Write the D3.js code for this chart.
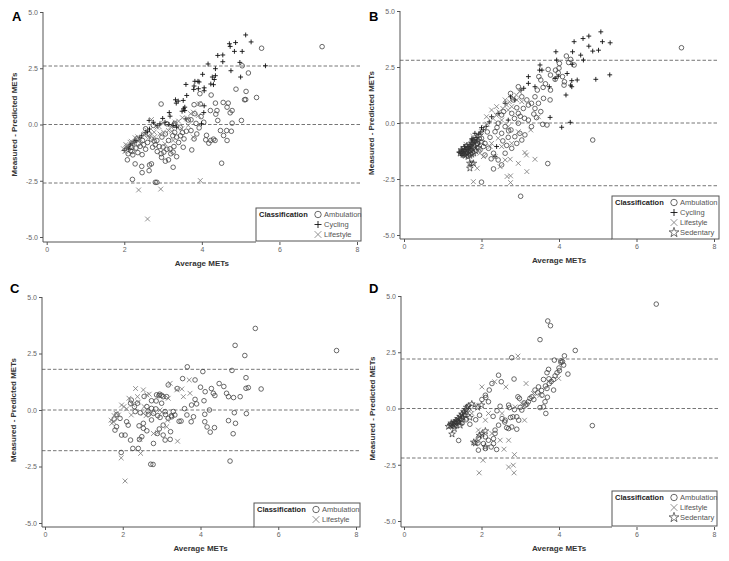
<!DOCTYPE html>
<html><head><meta charset="utf-8">
<script src="https://cdn.jsdelivr.net/npm/d3@7"></script>
<style>body{margin:0;background:#fff}svg{display:block}text{font-family:"Liberation Sans",Arial,sans-serif}</style>
</head><body>
<script>
const xTicks=[0,2,4,6,8];
const yTicks=[-5,-2.5,0,2.5,5];
const xTitle="Average METs";
const yTitle="Measured - Predicted METs";
const legendTitle="Classification";
const limitsA=[-2.6,0,2.6], limitsB=[-2.8,0,2.8], limitsC=[-1.8,0,1.8], limitsD=[-2.2,0,2.2];

const A_ambulation=[[7.10,3.46],[5.54,3.39],[5.04,2.61],[5.20,2.29],[4.88,1.57],[5.14,1.47],[5.41,1.20],[5.13,1.11],[5.10,1.10],[4.24,1.31],[3.95,1.37],[3.96,0.91],[3.80,0.88],[2.95,0.91],[4.35,0.95],[4.55,0.98],[4.68,0.95],[4.65,0.77],[4.78,0.62],[4.73,0.52],[4.39,0.62],[4.36,0.46],[4.22,0.62],[4.41,0.18],[4.78,0.06],[5.02,0.18],[4.76,-0.30],[4.64,-0.27],[4.48,-0.27],[4.56,-0.49],[4.65,-0.71],[4.51,-1.72],[4.23,-0.71],[4.34,-0.71],[4.12,-0.48],[4.10,-0.68],[4.18,-0.83],[3.93,-0.15],[3.87,-0.42],[3.72,-0.27],[3.80,-0.64],[3.74,-1.13],[3.54,-0.64],[3.50,-0.36],[3.44,-0.12],[3.35,-0.56],[3.28,-0.98],[3.26,-1.23],[3.35,-1.43],[3.14,-1.57],[3.06,-1.63],[2.96,-1.46],[3.02,-1.23],[2.90,-0.98],[2.84,-0.71],[2.97,-0.56],[3.06,-0.42],[3.14,-0.71],[3.18,-1.08],[2.73,-1.01],[2.77,-0.74],[2.64,-0.42],[2.55,-0.19],[2.47,-0.71],[2.46,-1.34],[2.41,-0.97],[2.70,-1.75],[2.65,-1.80],[2.45,-1.86],[2.28,-1.75],[2.22,-1.35],[2.16,-1.16],[2.08,-1.57],[2.46,-2.14],[2.64,-2.05],[2.21,-2.44],[2.80,-2.57],[2.84,-2.57],[2.19,-1.01],[2.36,-0.86],[2.32,-0.64],[3.26,-1.90],[3.52,-1.01],[2.75,-0.04],[3.10,0.03],[3.72,0.21],[3.82,0.48],[2.10,-1.30],[2.20,-1.20],[2.30,-1.05],[2.35,-1.25],[2.50,-0.90],[2.55,-1.10],[2.60,-0.80],[2.70,-0.65],[2.80,-0.90],[2.85,-1.20],[2.95,-1.30],[3.00,-1.00],[3.10,-1.10],[3.20,-1.30],[3.25,-0.50],[3.30,-0.35],[3.40,-0.80],[3.45,-0.50],[3.60,-0.30],[3.65,0.20],[3.30,0.05],[3.28,-0.02],[3.85,0.05],[3.98,0.35],[4.05,0.10],[4.30,-0.65]];
const A_cycling=[[5.13,3.98],[5.27,3.67],[4.71,3.59],[4.87,3.64],[4.73,3.47],[4.54,3.09],[4.41,3.07],[4.54,2.79],[5.04,3.25],[4.84,3.25],[4.98,2.76],[5.64,2.61],[4.75,2.39],[5.00,2.11],[4.16,2.69],[4.35,2.48],[4.02,2.23],[4.27,2.11],[4.35,2.17],[4.32,2.00],[3.82,1.92],[3.90,1.92],[3.93,1.89],[3.80,1.71],[3.91,1.59],[3.79,1.56],[4.06,1.63],[4.06,1.50],[4.23,1.80],[4.30,1.77],[3.59,1.78],[3.61,1.29],[3.39,1.04],[3.52,1.07],[3.32,1.10],[3.34,0.95],[3.56,0.77],[3.56,0.62],[3.53,0.70],[3.16,0.53],[3.18,0.37],[4.06,0.83],[2.99,0.27],[2.92,0.03],[2.64,0.18],[2.75,0.10],[3.26,-0.04],[3.35,-0.12],[3.99,0.03],[4.05,0.53],[3.59,0.25],[3.49,0.59],[2.00,-1.15],[2.05,-1.05],[2.10,-1.00],[2.15,-0.90],[2.20,-0.85],[2.25,-0.78],[2.12,-1.10],[2.30,-0.70],[2.40,-0.60],[2.45,-0.50],[2.55,-0.35],[2.60,-0.30],[2.65,-0.20],[2.85,-0.05],[3.05,0.10],[3.15,0.00]];
const A_lifestyle=[[2.60,-4.20],[2.37,-2.91],[2.94,-2.87],[3.96,-2.49],[1.98,-1.08],[2.06,-1.01],[2.15,-0.79],[2.28,-0.59],[2.52,-0.42],[2.70,0.22],[2.84,-0.12],[2.92,-0.42],[3.01,-0.34],[3.22,-0.30],[3.48,-0.19],[3.65,-0.04],[3.71,0.48],[3.78,0.55],[3.91,0.40],[3.93,0.92],[3.61,0.25],[3.31,0.10],[3.14,-0.27],[2.77,-0.34],[2.64,-0.56],[2.42,-0.68],[2.23,-0.83],[2.11,-1.16],[2.04,-0.89],[3.05,-0.86],[3.26,-0.71],[3.78,-0.56],[2.02,-1.20],[2.08,-0.95],[2.18,-0.75],[2.22,-1.00],[2.35,-0.55],[2.50,-0.45],[2.58,-0.25],[2.62,-0.50],[2.78,-0.55],[2.90,-0.10],[3.00,0.05],[3.20,-0.10],[3.40,0.15],[3.50,0.30]];

const B_ambulation=[[7.16,3.36],[4.87,-0.76],[4.19,2.99],[4.30,2.84],[4.39,2.59],[4.01,2.66],[3.72,2.39],[3.91,2.36],[3.98,2.24],[4.09,2.07],[3.78,2.14],[3.90,1.95],[4.14,1.84],[4.13,1.69],[3.78,1.47],[3.77,1.03],[3.48,2.07],[3.53,1.92],[3.59,1.59],[3.44,1.47],[3.38,1.17],[3.47,0.88],[3.38,0.65],[3.53,0.51],[3.42,0.24],[3.58,-0.06],[3.69,-0.09],[3.71,-1.81],[3.01,-3.27],[2.00,-2.64],[1.75,-1.80],[2.31,-2.05],[2.75,1.32],[2.82,1.03],[2.91,0.68],[2.78,0.43],[2.95,0.43],[3.08,0.65],[3.21,0.80],[3.11,0.21],[2.95,-0.01],[2.57,0.51],[2.52,0.36],[2.43,-0.01],[2.61,-0.16],[2.76,-0.31],[2.86,-0.61],[2.99,-0.46],[2.69,-0.64],[2.52,-0.46],[2.35,-0.39],[2.22,-0.64],[2.09,-0.91],[2.18,-1.13],[2.31,-1.35],[2.43,-1.65],[2.52,-1.87],[2.09,-1.43],[1.96,-1.20],[1.90,-0.91],[2.00,-0.68],[2.61,-1.35],[2.78,-1.13],[2.91,-0.91],[3.04,-0.76],[3.12,-0.53],[3.29,-0.16],[3.21,0.13],[3.04,1.17],[3.17,1.03],[3.29,0.88],[2.95,1.62],[2.40,-0.20],[2.55,-0.80],[2.65,-1.00],[2.70,-0.35],[2.85,0.20],[3.00,0.30],[3.35,0.40],[3.60,1.10],[3.65,1.75],[4.00,2.45],[4.25,2.70],[2.25,-1.60],[2.05,-1.05],[2.15,-0.40]];
const B_cycling=[[5.08,4.07],[4.77,3.88],[4.62,3.77],[4.39,3.63],[5.12,3.63],[5.32,3.58],[4.77,3.43],[4.87,3.21],[5.02,3.25],[3.92,3.18],[4.35,3.18],[4.56,3.03],[4.63,2.81],[3.94,2.81],[4.34,2.62],[3.51,2.59],[3.50,2.36],[3.56,2.36],[4.21,2.21],[5.31,2.15],[3.90,1.99],[4.47,1.92],[4.33,1.89],[4.95,1.95],[4.30,1.69],[4.33,1.62],[4.18,1.25],[3.21,1.77],[3.09,1.55],[3.75,1.62],[3.77,0.25],[4.29,0.03],[4.07,-0.19],[3.02,1.47],[2.86,1.03],[2.61,0.88],[2.43,0.43],[2.26,0.28],[2.00,-0.21],[1.83,-0.46],[1.75,-0.76],[1.57,-1.05],[1.49,-1.20],[2.39,-1.05],[2.35,-1.50],[2.75,1.17],[3.38,1.62],[3.21,2.07],[2.69,0.13],[3.98,2.09],[1.42,-1.30],[1.47,-1.35],[1.53,-1.28],[1.57,-1.18],[1.63,-1.10],[1.68,-1.05],[1.73,-0.95],[1.78,-0.85],[1.83,-0.75],[1.88,-0.65],[1.93,-0.50],[1.98,-0.40],[1.60,-1.40],[1.66,-1.25],[1.72,-1.15],[1.50,-1.45],[1.75,-0.70],[2.05,-0.30],[2.12,-0.15],[2.20,0.05]];
const B_lifestyle=[[1.79,-2.62],[2.75,-2.66],[2.75,-2.36],[2.66,-2.39],[3.17,-2.17],[3.38,-1.62],[3.12,-1.32],[3.16,-1.43],[3.27,-0.31],[2.95,-1.80],[2.74,-1.62],[2.61,-1.65],[2.48,-1.95],[1.89,-2.02],[2.35,-1.50],[2.22,-1.05],[2.05,-1.50],[1.96,-1.35],[2.52,-1.05],[2.78,-0.91],[2.43,-0.68],[2.26,-0.91],[2.78,0.73],[2.91,1.03],[2.69,0.58],[2.61,1.03],[2.39,0.73],[2.13,0.28],[2.26,0.58],[3.04,0.95],[2.52,0.13],[2.69,-0.16],[2.00,-0.39],[1.83,-0.76],[2.95,-0.39],[3.47,0.28],[1.55,-1.35],[1.62,-1.30],[1.68,-1.15],[1.74,-1.05],[1.80,-1.00],[1.86,-0.85],[1.92,-0.70],[1.60,-0.95],[1.78,-0.60],[2.08,-0.20],[2.15,-0.05],[2.30,0.20],[2.38,0.35],[2.45,0.50],[2.55,0.65],[2.65,0.80],[2.72,0.95],[2.82,1.10],[2.90,1.25],[2.98,1.40]];
const B_sedentary=[[1.45,-1.35],[1.50,-1.30],[1.55,-1.25],[1.60,-1.20],[1.65,-1.10],[1.70,-1.00],[1.75,-0.90],[1.80,-0.80],[1.85,-0.70],[1.52,-1.40],[1.58,-1.45],[1.62,-1.38],[1.68,-1.30],[1.72,-1.22],[1.78,-1.15],[1.82,-1.05],[1.88,-0.95],[1.90,-0.80],[1.48,-1.20],[1.55,-1.10],[1.62,-1.02],[1.70,-1.45],[1.75,-1.40],[1.80,-1.35],[1.85,-1.25],[1.65,-1.50],[1.70,-1.80],[1.79,-1.80],[1.70,-2.02],[1.95,-0.55],[1.92,-1.10],[2.00,-0.85]];

const C_ambulation=[[7.50,2.63],[5.41,3.61],[4.89,2.86],[5.14,2.41],[5.17,1.43],[5.17,0.96],[5.23,0.99],[5.56,0.93],[5.18,-0.16],[4.81,1.75],[3.66,1.91],[4.06,1.70],[3.54,1.39],[3.86,1.33],[4.00,1.01],[4.48,1.17],[4.60,1.04],[4.28,0.95],[4.33,0.74],[4.12,0.81],[4.67,0.74],[4.72,0.59],[5.02,0.59],[4.85,0.55],[4.37,0.64],[4.09,0.41],[3.86,0.47],[3.77,0.22],[3.90,0.27],[3.59,0.06],[3.65,-0.22],[3.82,-0.30],[3.76,-0.52],[3.50,-0.49],[4.11,-0.19],[4.23,0.00],[4.11,-0.52],[4.17,-0.75],[4.25,-0.98],[4.36,-0.78],[4.72,-0.47],[4.87,-0.12],[4.90,-0.59],[4.84,-1.05],[4.76,-2.26],[3.26,-0.30],[3.30,-0.07],[3.34,-0.22],[3.17,-0.37],[3.23,-0.96],[3.22,-1.30],[3.09,-1.33],[2.94,-0.84],[3.04,-1.11],[2.89,-1.04],[2.79,-1.48],[3.04,-0.67],[2.96,-0.33],[3.09,-0.07],[3.00,0.30],[2.93,0.64],[2.87,0.67],[3.04,0.59],[3.13,0.59],[3.17,1.11],[2.86,0.40],[2.74,0.41],[2.74,0.07],[2.79,-0.15],[2.66,-0.19],[2.74,-0.44],[2.53,-0.59],[2.42,-0.70],[2.53,-0.81],[2.62,-0.92],[2.49,-1.18],[2.43,-1.30],[2.40,-1.70],[2.26,-1.70],[2.72,-2.40],[2.78,-2.41],[1.96,-1.88],[1.97,-1.11],[2.06,-1.11],[2.20,-1.33],[2.14,-0.67],[2.32,-0.07],[2.45,-0.12],[2.62,0.15],[2.38,0.30],[2.22,0.44],[1.93,-0.37],[1.80,-0.89],[1.84,-0.74],[2.10,-0.52],[2.95,0.70],[3.00,0.65],[2.90,-0.25],[3.10,-0.20],[3.25,-0.25],[2.85,0.05],[2.55,0.60],[2.65,-0.05],[2.30,0.15],[2.20,0.30],[1.85,-0.20],[1.78,-0.40],[3.45,-0.50],[3.40,0.95]];
const C_lifestyle=[[2.06,-3.14],[1.96,-2.12],[2.46,-1.92],[2.44,-1.30],[1.97,0.22],[2.16,0.52],[2.33,0.95],[2.53,0.89],[2.38,0.59],[2.62,0.67],[3.22,1.18],[3.17,0.52],[3.39,0.89],[3.52,0.93],[3.56,0.59],[3.71,1.33],[3.73,0.74],[3.41,-1.38],[2.79,-1.04],[2.96,0.00],[2.22,-0.22],[1.72,-0.59],[1.76,-0.52],[1.83,-0.15],[1.89,-0.22],[2.03,0.15],[2.53,-0.15],[3.13,-0.74],[1.70,-0.45],[1.78,-0.25],[2.10,0.05],[2.25,0.25],[2.40,0.35],[2.55,0.15],[2.60,-0.25],[2.75,-0.10],[2.90,-1.00],[3.00,-0.10],[3.15,-0.45],[2.68,0.70]];

const D_ambulation=[[6.51,4.64],[3.71,3.89],[3.78,3.68],[3.51,3.06],[4.42,2.58],[4.14,2.34],[4.05,2.12],[4.09,2.08],[4.12,1.93],[4.23,1.53],[3.88,2.15],[4.01,1.68],[3.95,1.59],[3.73,1.74],[3.69,1.59],[3.74,1.32],[3.86,1.29],[3.75,1.11],[3.60,1.29],[3.86,0.82],[3.69,0.89],[3.47,0.96],[3.38,0.82],[3.56,0.59],[3.64,0.30],[3.60,0.07],[3.51,0.04],[3.66,-0.22],[4.86,-0.76],[3.30,0.52],[3.21,0.30],[3.13,0.15],[3.17,0.19],[3.04,-0.07],[2.91,-0.37],[2.96,-0.52],[2.78,-0.82],[2.70,-0.89],[2.91,-0.92],[2.81,-0.37],[2.70,0.15],[2.72,0.04],[2.48,0.10],[2.53,-0.45],[2.61,-0.52],[2.44,-0.74],[2.35,-0.96],[2.35,-1.11],[2.31,-1.34],[2.31,-1.56],[2.39,-1.82],[2.25,-1.71],[2.18,-1.41],[2.10,-1.26],[2.05,-1.56],[2.10,-1.78],[1.92,-1.85],[1.91,-1.53],[1.92,-1.31],[1.41,-1.42],[2.84,1.31],[2.78,2.26],[2.44,1.48],[2.51,1.19],[2.20,0.82],[2.10,0.59],[2.01,0.40],[2.11,0.49],[2.18,0.30],[2.94,0.52],[2.98,0.45],[2.27,1.11],[1.30,-0.80],[1.50,-0.65],[1.60,-0.50],[1.70,-0.70],[1.85,-0.50],[1.95,-0.30],[2.30,-0.35],[2.40,-0.10],[2.60,-0.60],[2.65,-0.85],[2.75,-0.40],[2.85,-0.05],[3.00,0.05],[3.10,0.25],[3.25,0.45],[3.35,0.40],[3.45,0.70],[3.55,0.80],[3.65,1.00],[3.80,1.20],[3.90,1.45],[4.00,1.80],[4.05,2.05],[3.70,0.50]];
const D_lifestyle=[[1.94,-2.86],[2.84,-2.86],[2.82,-2.52],[2.70,-2.60],[2.85,-2.05],[2.04,-2.30],[2.94,2.33],[2.01,0.96],[2.63,0.96],[2.34,1.19],[3.15,1.11],[2.70,-1.41],[2.58,-1.81],[2.48,-1.41],[2.27,-1.11],[2.10,-0.52],[1.92,-0.96],[1.75,-0.22],[1.84,0.15],[2.18,-0.22],[2.53,-0.22],[3.04,0.22],[2.87,0.07],[3.11,-0.52],[3.34,0.67],[3.51,0.59],[3.99,1.34],[1.56,-0.15],[1.67,0.07],[1.18,-0.78],[1.26,-0.68],[1.32,-0.58],[1.36,-0.50],[1.42,-0.40],[1.47,-0.30],[1.53,-0.20],[1.57,-0.10],[1.35,-0.75],[1.45,-0.60],[1.55,-0.45],[1.65,-0.20],[1.72,-0.05]];
const D_sedentary=[[1.15,-0.80],[1.20,-0.75],[1.25,-0.70],[1.30,-0.62],[1.35,-0.55],[1.40,-0.45],[1.45,-0.35],[1.50,-0.25],[1.55,-0.15],[1.60,-0.05],[1.22,-0.65],[1.28,-0.72],[1.33,-0.65],[1.38,-0.58],[1.42,-0.62],[1.48,-0.50],[1.52,-0.40],[1.58,-0.30],[1.62,0.05],[1.66,0.10],[1.24,-1.14],[1.30,-0.90],[1.45,-0.75],[1.84,-1.54],[1.80,-1.50],[2.01,-1.14],[2.10,-1.00],[2.10,-1.70],[1.95,-1.20],[1.70,-0.40],[1.90,0.05],[2.00,0.15],[1.75,0.20]];

// ---- layout ----
const panels=[
 {id:"A",lx:12,ly:21,x:[46.7,357],y:[237,12],left:43,bottom:242,right:362,leg:[256,208,361,241],loa:limitsA,
  series:[["Ambulation","circle",A_ambulation],["Cycling","plus",A_cycling],["Lifestyle","x",A_lifestyle]]},
 {id:"B",lx:369,ly:21,x:[404,714],y:[235,11],left:400,bottom:239,right:719,leg:[612,196,719,239],loa:limitsB,
  series:[["Ambulation","circle",B_ambulation],["Cycling","plus",B_cycling],["Lifestyle","x",B_lifestyle],["Sedentary","star",B_sedentary]]},
 {id:"C",lx:10,ly:293,x:[45,356],y:[523,297],left:42,bottom:527,right:361,leg:[254,503,360,527],loa:limitsC,
  series:[["Ambulation","circle",C_ambulation],["Lifestyle","x",C_lifestyle]]},
 {id:"D",lx:369,ly:293,x:[404,714],y:[521,296],left:401,bottom:527,right:719,leg:[612,491,717,526],loa:limitsD,
  series:[["Ambulation","circle",D_ambulation],["Lifestyle","x",D_lifestyle],["Sedentary","star",D_sedentary]]}
];

const svg=d3.select("body").append("svg").attr("width",729).attr("height",561);

function drawMark(g,type,big){
  const s=big?1.4:1;
  if(type==="circle"){
    g.append("circle").attr("r",2.3*s).attr("fill","none").attr("stroke","#444").attr("stroke-width",0.8);
  }else if(type==="plus"){
    const h=big?3.5:2.4;
    g.append("path").attr("d",`M${-h},0H${h}M0,${-h}V${h}`).attr("stroke","#111").attr("stroke-width",big?0.9:0.9);
  }else if(type==="x"){
    const h=2.4*s;
    g.append("path").attr("d",`M${-h},${-h}L${h},${h}M${-h},${h}L${h},${-h}`).attr("stroke","#777").attr("stroke-width",0.8);
  }else if(type==="star"){
    g.append("path").attr("d",d3.symbol(d3.symbolStar,big?30:14)()).attr("fill","none").attr("stroke","#333").attr("stroke-width",0.7);
  }
}

panels.forEach(p=>{
  const g=svg.append("g");
  const x=d3.scaleLinear().domain([0,8]).range(p.x);
  const y=d3.scaleLinear().domain([-5,5]).range(p.y);

  g.selectAll(".loa").data(p.loa).join("line")
    .attr("x1",p.left).attr("x2",p.right).attr("y1",d=>y(d)).attr("y2",d=>y(d))
    .attr("stroke","#666").attr("stroke-width",0.9).attr("stroke-dasharray","3.5,2");

  const ax=g.append("g").attr("transform",`translate(0,${p.bottom})`)
    .call(d3.axisBottom(x).tickValues(xTicks).tickSize(3).tickPadding(2).tickFormat(d3.format("d")));
  ax.select(".domain").remove();
  const ay=g.append("g").attr("transform",`translate(${p.left},0)`)
    .call(d3.axisLeft(y).tickValues(yTicks).tickSize(3).tickPadding(2).tickFormat(d=>d.toFixed(1)));
  ay.select(".domain").remove();
  [ax,ay].forEach(a=>{a.selectAll("line").attr("stroke","#555");
    a.selectAll("text").attr("fill","#666").style("font-size","7px").style("font-family","'Liberation Sans',Arial,sans-serif");});
  g.append("line").attr("x1",p.left).attr("x2",p.left).attr("y1",y(5)).attr("y2",p.bottom).attr("stroke","#555").attr("stroke-width",1);
  g.append("line").attr("x1",p.left).attr("x2",p.leg[0]).attr("y1",p.bottom).attr("y2",p.bottom).attr("stroke","#555").attr("stroke-width",1);

  g.append("text").attr("x",(p.x[0]+p.x[1])/2).attr("y",p.bottom+24).attr("text-anchor","middle")
    .attr("font-size",8).attr("font-weight","bold").attr("fill","#333").text(xTitle);
  g.append("text").attr("transform",`translate(${p.left-26},${(p.y[0]+p.y[1])/2}) rotate(-90)`).attr("text-anchor","middle")
    .attr("font-size",8).attr("font-weight","bold").attr("fill","#333").text(yTitle);
  g.append("text").attr("x",p.lx).attr("y",p.ly).attr("font-size",13).attr("font-weight","bold").attr("fill","#000").text(p.id);

  p.series.forEach(([name,type,data])=>{
    data.forEach(d=>{
      const m=g.append("g").attr("transform",`translate(${x(d[0])},${y(d[1])})`);
      drawMark(m,type,false);
    });
  });

  const [l0,t0,l1,t1]=p.leg;
  g.append("rect").attr("x",l0).attr("y",t0).attr("width",l1-l0).attr("height",t1-t0)
    .attr("fill","#fff").attr("stroke","#555").attr("stroke-width",1);
  g.append("text").attr("x",l0+3).attr("y",t0+9).attr("font-size",7.5).attr("font-weight","bold").attr("fill","#222").text(legendTitle);
  p.series.forEach(([name,type],i)=>{
    const cy=t0+6.5+i*10;
    const m=g.append("g").attr("transform",`translate(${l0+62},${cy})`);
    drawMark(m,type,true);
    g.append("text").attr("x",l0+68).attr("y",cy+2.7).attr("font-size",7.5).attr("fill","#555").text(name);
  });
});
</script>
</body></html>
